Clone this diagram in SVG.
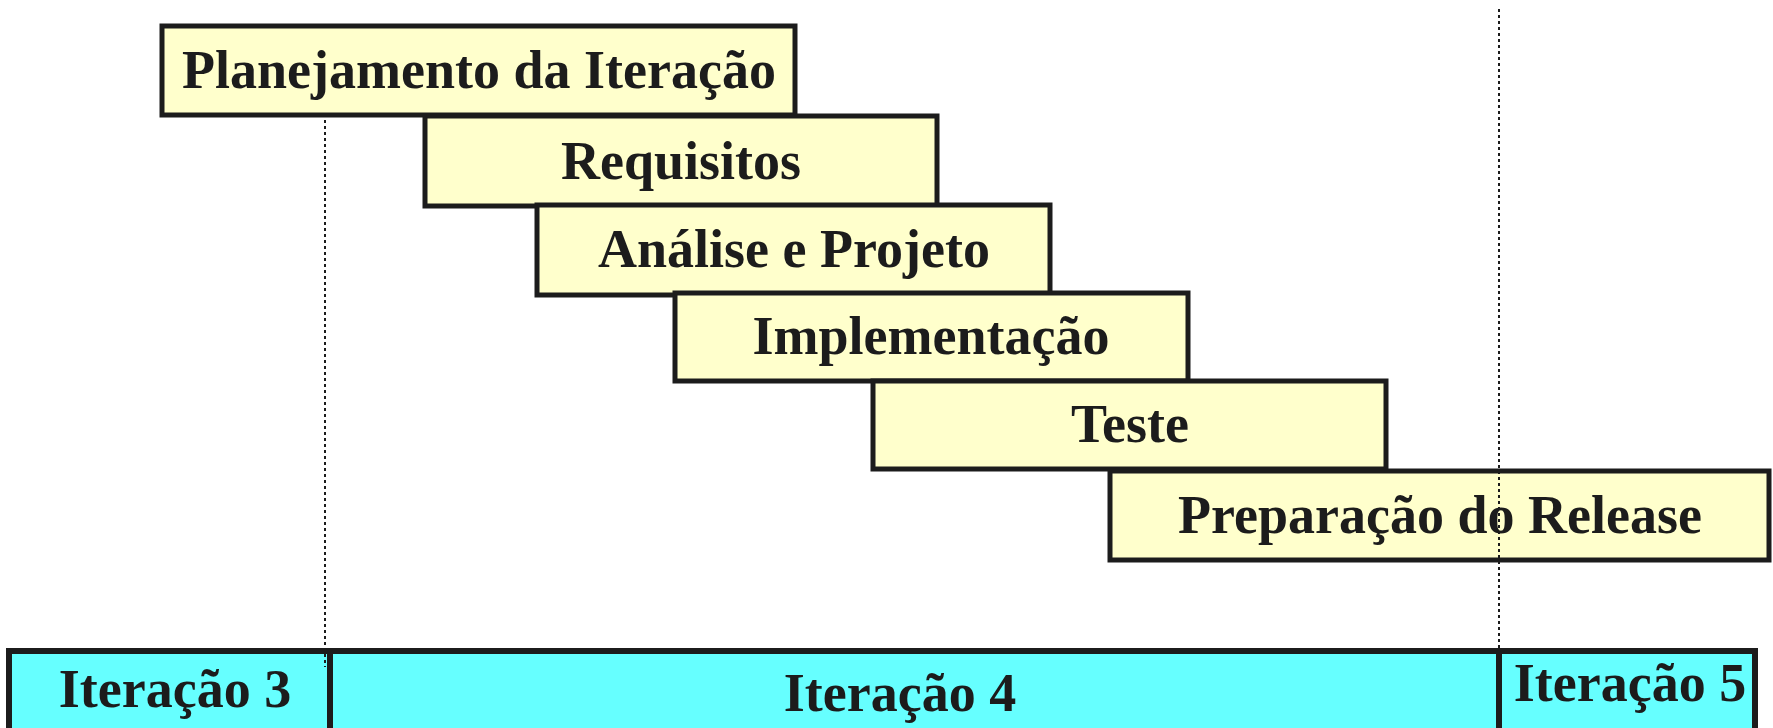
<svg xmlns="http://www.w3.org/2000/svg" width="1773" height="728" viewBox="0 0 1773 728">
<style>
.box{fill:#FFFFCC;stroke:#1c1c1c;stroke-width:5}
.cell{fill:#66FFFF;stroke:#1c1c1c;stroke-width:6}
.t{font-family:"Liberation Serif","Times New Roman",serif;font-weight:bold;font-size:54px;fill:#1c1c1c;text-anchor:middle}
.dot{stroke:#1c1c1c;stroke-width:2;stroke-dasharray:3 3;fill:none}
</style>
<rect width="1773" height="728" fill="#ffffff"/>
<g id="iteracao3"><rect class="cell" x="9" y="651" width="321" height="100"/><text class="t" x="175" y="707">Iteração 3</text></g>
<g id="iteracao4"><rect class="cell" x="330" y="651" width="1169" height="100"/><text class="t" x="900" y="711">Iteração 4</text></g>
<g id="iteracao5"><rect class="cell" x="1499" y="651" width="256" height="100"/><text class="t" x="1630" y="701">Iteração 5</text></g>
<g id="planejamento"><rect class="box" x="162" y="26" width="633" height="89"/><text class="t" x="479" y="88">Planejamento da Iteração</text></g>
<g id="requisitos"><rect class="box" x="425" y="116" width="512" height="90"/><text class="t" x="681" y="179">Requisitos</text></g>
<g id="analise"><rect class="box" x="537" y="205" width="513" height="90"/><text class="t" x="794" y="267">Análise e Projeto</text></g>
<g id="implementacao"><rect class="box" x="675" y="293" width="513" height="88"/><text class="t" x="931" y="354">Implementação</text></g>
<g id="teste"><rect class="box" x="873" y="381" width="513" height="88"/><text class="t" x="1130" y="442">Teste</text></g>
<g id="release"><rect class="box" x="1110" y="471" width="659" height="89"/><text class="t" x="1440" y="533">Preparação do Release</text></g>
<g id="connectors">
<line class="dot" x1="325" y1="120" x2="325" y2="667"/>
<line class="dot" x1="1499" y1="9" x2="1499" y2="650"/>
</g>
</svg>
